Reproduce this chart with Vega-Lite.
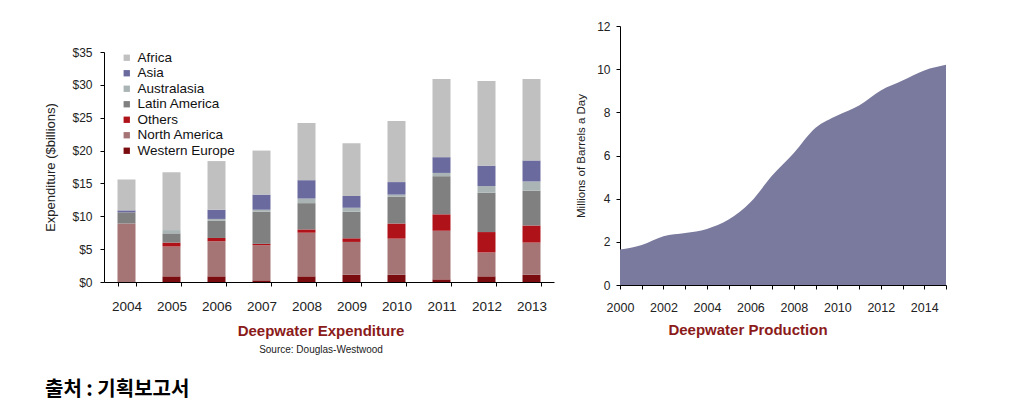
{
  "$schema": "https://vega.github.io/schema/vega-lite/v6.json",
  "background": "white",
  "padding": {"left": 44, "top": 20, "right": 5, "bottom": 5},
  "config": {
    "view": {"stroke": null},
    "font": "Liberation Sans",
    "axis": {"domain": true, "ticks": true, "domainWidth": 1, "tickWidth": 1, "domainColor": "#000000", "tickColor": "#000000", "labelColor": "#222222", "titleColor": "#222222", "grid": false, "titleFontWeight": "normal", "labelFont": "Liberation Sans", "titleFont": "Liberation Sans"}
  },
  "title": {"text": "출처 : 기획보고서", "orient": "bottom", "anchor": "start", "font": "Noto Sans CJK KR", "fontSize": 20, "fontWeight": "bold", "color": "black", "offset": 25},
  "spacing": 21,
  "hconcat": [
    {
      "spacing": 0,
      "vconcat": [
        {
          "width": 450,
          "height": 20,
          "data": {"values": []},
          "mark": {"type": "point", "opacity": 0}
        },
        {
          "width": 450,
          "height": 230,
          "title": {"text": "Deepwater Expenditure", "subtitle": "Source: Douglas-Westwood", "orient": "bottom", "anchor": "middle", "frame": "group", "dx": -8, "offset": 11, "fontSize": 15, "fontWeight": "bold", "color": "#8b1a1a", "subtitleFontSize": 10, "subtitleColor": "#222222", "subtitlePadding": 6},
          "data": {"values": [
            {"year": "2004", "region": "Western Europe", "value": 0},
            {"year": "2004", "region": "North America", "value": 8.9},
            {"year": "2004", "region": "Others", "value": 0},
            {"year": "2004", "region": "Latin America", "value": 1.7},
            {"year": "2004", "region": "Australasia", "value": 0},
            {"year": "2004", "region": "Asia", "value": 0.3},
            {"year": "2004", "region": "Africa", "value": 4.7},
            {"year": "2005", "region": "Western Europe", "value": 0.86},
            {"year": "2005", "region": "North America", "value": 4.54},
            {"year": "2005", "region": "Others", "value": 0.6},
            {"year": "2005", "region": "Latin America", "value": 1.4},
            {"year": "2005", "region": "Australasia", "value": 0.5},
            {"year": "2005", "region": "Asia", "value": 0},
            {"year": "2005", "region": "Africa", "value": 8.8},
            {"year": "2006", "region": "Western Europe", "value": 0.86},
            {"year": "2006", "region": "North America", "value": 5.34},
            {"year": "2006", "region": "Others", "value": 0.5},
            {"year": "2006", "region": "Latin America", "value": 2.6},
            {"year": "2006", "region": "Australasia", "value": 0.3},
            {"year": "2006", "region": "Asia", "value": 1.4},
            {"year": "2006", "region": "Africa", "value": 7.4},
            {"year": "2007", "region": "Western Europe", "value": 0.25},
            {"year": "2007", "region": "North America", "value": 5.35},
            {"year": "2007", "region": "Others", "value": 0.2},
            {"year": "2007", "region": "Latin America", "value": 4.9},
            {"year": "2007", "region": "Australasia", "value": 0.3},
            {"year": "2007", "region": "Asia", "value": 2.3},
            {"year": "2007", "region": "Africa", "value": 6.7},
            {"year": "2008", "region": "Western Europe", "value": 0.86},
            {"year": "2008", "region": "North America", "value": 6.64},
            {"year": "2008", "region": "Others", "value": 0.5},
            {"year": "2008", "region": "Latin America", "value": 4.0},
            {"year": "2008", "region": "Australasia", "value": 0.7},
            {"year": "2008", "region": "Asia", "value": 2.8},
            {"year": "2008", "region": "Africa", "value": 8.7},
            {"year": "2009", "region": "Western Europe", "value": 1.1},
            {"year": "2009", "region": "North America", "value": 5.0},
            {"year": "2009", "region": "Others", "value": 0.55},
            {"year": "2009", "region": "Latin America", "value": 4.05},
            {"year": "2009", "region": "Australasia", "value": 0.6},
            {"year": "2009", "region": "Asia", "value": 1.8},
            {"year": "2009", "region": "Africa", "value": 8.0},
            {"year": "2010", "region": "Western Europe", "value": 1.1},
            {"year": "2010", "region": "North America", "value": 5.5},
            {"year": "2010", "region": "Others", "value": 2.3},
            {"year": "2010", "region": "Latin America", "value": 4.1},
            {"year": "2010", "region": "Australasia", "value": 0.3},
            {"year": "2010", "region": "Asia", "value": 1.9},
            {"year": "2010", "region": "Africa", "value": 9.3},
            {"year": "2011", "region": "Western Europe", "value": 0.4},
            {"year": "2011", "region": "North America", "value": 7.4},
            {"year": "2011", "region": "Others", "value": 2.5},
            {"year": "2011", "region": "Latin America", "value": 5.8},
            {"year": "2011", "region": "Australasia", "value": 0.5},
            {"year": "2011", "region": "Asia", "value": 2.4},
            {"year": "2011", "region": "Africa", "value": 11.9},
            {"year": "2012", "region": "Western Europe", "value": 0.86},
            {"year": "2012", "region": "North America", "value": 3.64},
            {"year": "2012", "region": "Others", "value": 3.1},
            {"year": "2012", "region": "Latin America", "value": 6.0},
            {"year": "2012", "region": "Australasia", "value": 1.0},
            {"year": "2012", "region": "Asia", "value": 3.1},
            {"year": "2012", "region": "Africa", "value": 12.9},
            {"year": "2013", "region": "Western Europe", "value": 1.1},
            {"year": "2013", "region": "North America", "value": 4.9},
            {"year": "2013", "region": "Others", "value": 2.6},
            {"year": "2013", "region": "Latin America", "value": 5.3},
            {"year": "2013", "region": "Australasia", "value": 1.4},
            {"year": "2013", "region": "Asia", "value": 3.2},
            {"year": "2013", "region": "Africa", "value": 12.4}
          ]},
          "transform": [
            {"calculate": "indexof(['Western Europe','North America','Others','Latin America','Australasia','Asia','Africa'], datum.region)", "as": "stackOrder"}
          ],
          "mark": {"type": "bar"},
          "encoding": {
            "x": {
              "field": "year", "type": "ordinal",
              "scale": {"paddingInner": 0.6, "paddingOuter": 0.3},
              "axis": {"title": null, "labelAngle": 0, "labelFontSize": 13.5, "labelPadding": 13, "tickBand": "extent", "tickSize": 4}
            },
            "y": {
              "field": "value", "type": "quantitative", "stack": "zero",
              "scale": {"domain": [0, 35], "nice": false},
              "axis": {"values": [0, 5, 10, 15, 20, 25, 30, 35], "labelExpr": "'$' + datum.value", "title": "Expenditure ($billions)", "titleFontSize": 13, "labelFontSize": 12, "tickSize": 4, "labelPadding": 8, "titlePadding": 14}
            },
            "color": {
              "field": "region", "type": "nominal",
              "scale": {
                "domain": ["Africa", "Asia", "Australasia", "Latin America", "Others", "North America", "Western Europe"],
                "range": ["#c0c0c0", "#6a6a9e", "#aab4b4", "#808080", "#b0121a", "#a57575", "#7a0c10"]
              },
              "legend": {"orient": "none", "legendX": 16, "legendY": 25, "title": null, "symbolType": "square", "symbolSize": 40, "symbolStrokeWidth": 0, "labelFontSize": 13.5, "labelColor": "#111111", "rowPadding": 0.5, "labelOffset": 4, "padding": 0}
            },
            "order": {"field": "stackOrder", "type": "quantitative", "sort": "ascending"}
          }
        }
      ]
    },
    {
      "width": 326,
      "height": 259,
      "data": {"values": [
        {"year": 2000, "mbd": 1.64},
        {"year": 2001, "mbd": 1.85},
        {"year": 2002, "mbd": 2.26},
        {"year": 2003, "mbd": 2.41},
        {"year": 2004, "mbd": 2.6},
        {"year": 2005, "mbd": 3.03},
        {"year": 2006, "mbd": 3.83},
        {"year": 2007, "mbd": 5.07},
        {"year": 2008, "mbd": 6.12},
        {"year": 2009, "mbd": 7.28},
        {"year": 2010, "mbd": 7.85},
        {"year": 2011, "mbd": 8.32},
        {"year": 2012, "mbd": 9.01},
        {"year": 2013, "mbd": 9.47},
        {"year": 2014, "mbd": 9.94},
        {"year": 2015, "mbd": 10.2}
      ]},
      "mark": {"type": "area", "color": "#7a7a9e", "interpolate": "monotone"},
      "encoding": {
        "x": {
          "field": "year", "type": "quantitative",
          "scale": {"domain": [2000, 2015], "nice": false},
          "axis": {"values": [2000, 2001, 2002, 2003, 2004, 2005, 2006, 2007, 2008, 2009, 2010, 2011, 2012, 2013, 2014, 2015], "format": "d", "labelExpr": "datum.value % 2 == 0 ? datum.label : ''", "title": null, "labelFontSize": 12.5, "tickSize": 4, "labelPadding": 12, "labelFlush": false}
        },
        "y": {
          "field": "mbd", "type": "quantitative",
          "scale": {"domain": [0, 12], "nice": false},
          "axis": {"values": [0, 2, 4, 6, 8, 10, 12], "title": "Millions of Barrels a Day", "titleFontSize": 11.5, "labelFontSize": 12, "tickSize": 4, "labelPadding": 6, "titlePadding": 10}
        }
      },
      "title": {"text": "Deepwater Production", "orient": "bottom", "anchor": "middle", "dx": -35, "offset": 9, "fontSize": 15, "fontWeight": "bold", "color": "#8b1a1a"}
    }
  ]
}
